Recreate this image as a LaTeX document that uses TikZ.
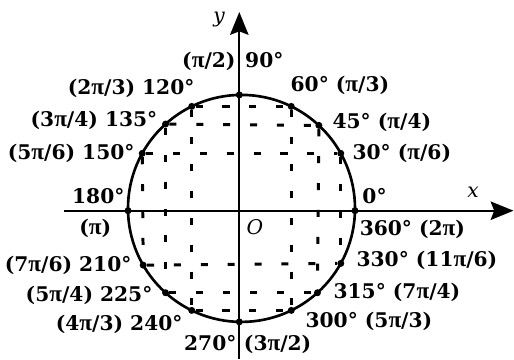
\documentclass[tikz,border=0pt]{standalone}
\usepackage{fontspec}
\setmainfont{DejaVu Serif}
\newfontfamily\pifont[Scale=1.15]{Liberation Serif}
\newcommand{\piglyph}{{\pifont π}}
\usetikzlibrary{arrows.meta,positioning}

\begin{document}
\begin{tikzpicture}[
  x=0.02cm, y=0.02cm,
  dot/.style={circle, fill=black, inner sep=0pt, minimum size=0.14cm},
  lbl/.style={inner sep=1pt, font=\bfseries\fontsize{11.5}{13}\selectfont},
  axlbl/.style={inner sep=1pt, font=\itshape\fontsize{11.5}{13}\selectfont},
  axis/.style={-{Stealth[length=13pt, width=10.5pt, inset=2pt]}, line width=1.1pt},
  chord/.style={line width=1.7pt, dash pattern=on 4pt off 11.3pt}
]
\useasboundingbox (-241.5,-150.6) rectangle (272.5,208.4);
\coordinate (xmin) at (-177.5,-2.3);
\coordinate (xmax) at (272,-2.3);
\coordinate (ymin) at (-2.2,-150.6);
\coordinate (ymax) at (-2.2,196.4);
\draw[axis] (xmin) -- (xmax);
\draw[axis] (ymin) -- (ymax);
\draw[line width=1.5pt] (0,0) circle[radius=113.5];
% points on the circle
\node[dot] (p0) at (-1.16:113.5) {};
\node[dot] (p30) at (29:113.5) {};
\node[dot] (p45) at (47:113.5) {};
\node[dot] (p60) at (64:113.5) {};
\node[dot] (p90) at (91.11:113.5) {};
\node[dot] (p120) at (116:113.5) {};
\node[dot] (p135) at (132:113.5) {};
\node[dot] (p150) at (151:113.5) {};
\node[dot] (p180) at (181.16:113.5) {};
\node[dot] (p210) at (210:113.5) {};
\node[dot] (p225) at (228:113.5) {};
\node[dot] (p240) at (244:113.5) {};
\node[dot] (p270) at (268.89:113.5) {};
\node[dot] (p300) at (296:113.5) {};
\node[dot] (p315) at (312:113.5) {};
\node[dot] (p330) at (331:113.5) {};
% dashed chords
\draw[chord] (p150) -- (p30);
\draw[chord] (p135) -- (p45);
\draw[chord] (p120) -- (p60);
\draw[chord] (p210) -- (p330);
\draw[chord] (p225) -- (p315);
\draw[chord] (p240) -- (p300);
\draw[chord] (p120) -- (p240);
\draw[chord] (p135) -- (p225);
\draw[chord] (p150) -- (p210);
\draw[chord] (p60) -- (p300);
\draw[chord] (p45) -- (p315);
\draw[chord] (p30) -- (p330);
% labels
\node[lbl, right=3.3pt of p30] (l30) {30° (\piglyph/6)};
\node[lbl, right=4.4pt of p45, yshift=1.9pt] (l45) {45° (\piglyph/4)};
\node[lbl, above right=3.7pt and -3.1pt of p60] (l60) {60° (\piglyph/3)};
\node[lbl, above left=11.3pt and -0.6pt of p90] (l90a) {(\piglyph/2)};
\node[lbl, base right=3.1pt of l90a] (l90b) {90°};
\node[lbl, above left=2pt and -4.3pt of p120] (l120) {(2\piglyph/3) 120°};
\node[lbl, left=1.3pt of p135, yshift=1.8pt] (l135) {(3\piglyph/4) 135°};
\node[lbl, left=1pt of p150] (l150) {(5\piglyph/6) 150°};
\node[lbl, above left=1.4pt and -0.7pt of p180] (l180) {180°};
\node[lbl, below=6.7pt of l180, xshift=-1.7pt] (l180b) {(\piglyph)};
\node[lbl, left=3.3pt of p210] (l210) {(7\piglyph/6) 210°};
\node[lbl, left=4.1pt of p225, yshift=-1.3pt] (l225) {(5\piglyph/4) 225°};
\node[lbl, below left=0pt and 2.5pt of p240] (l240) {(4\piglyph/3) 240°};
\node[lbl, below left=5pt and -1.1pt of p270] (l270) {270°};
\node[lbl, base right=1.9pt of l270] (l270b) {(3\piglyph/2)};
\node[lbl, below right=-1.9pt and 5.4pt of p300] (l300) {300° (5\piglyph/3)};
\node[lbl, right=5.8pt of p315] (l315) {315° (7\piglyph/4)};
\node[lbl, right=5.6pt of p330, yshift=1.9pt] (l330) {330° (11\piglyph/6)};
\node[lbl, above right=1.4pt and 1.5pt of p0] (l0) {0°};
\node[lbl, below right=2.5pt and 0pt of p0] (l360) {360° (2\piglyph)};
% axis names
\node[axlbl] (xlbl) at (231.5,16.4) {x};
\node[axlbl] (ylbl) at (-22.5,189.4) {y};
\node[axlbl] (olbl) at (13.5,-18.6) {O};
\end{tikzpicture}
\end{document}
